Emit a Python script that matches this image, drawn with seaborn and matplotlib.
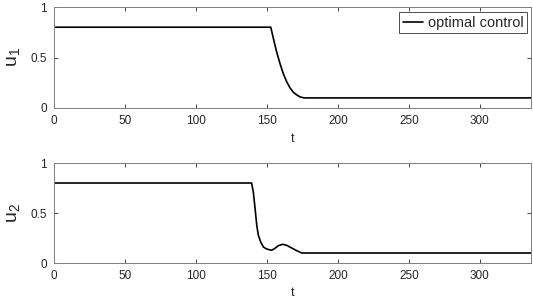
import numpy as np
import pandas as pd
import matplotlib
matplotlib.use("Agg")
import matplotlib.pyplot as plt
import seaborn as sns

# Data
t1 = [0, 152.7, 154.5, 156.8, 159.2, 161.5, 163.9, 166.2, 168.6, 171.0, 173.3, 176.1, 336]
u1 = [0.8, 0.8, 0.69, 0.557, 0.44, 0.34, 0.26, 0.20, 0.155, 0.13, 0.11, 0.1, 0.1]

t2 = [0, 139.2, 140.4, 141.6, 142.8, 143.9, 145.6, 147.5, 149.8, 153.3, 155.7, 158.0,
      161.1, 163.9, 167.4, 171.0, 174.5, 336]
u2 = [0.8, 0.8, 0.71, 0.55, 0.38, 0.28, 0.21, 0.16, 0.14, 0.127, 0.147, 0.173,
      0.187, 0.177, 0.15, 0.123, 0.1, 0.1]

xticks = [0, 50, 100, 150, 200, 250, 300]
yticks = [0, 0.5, 1]
yticklabels = ["0", "0.5", "1"]
legend_label = "optimal control"

sns.set_theme(style="ticks")
plt.rcParams['font.family'] = ['Liberation Sans', 'DejaVu Sans']
plt.rcParams['mathtext.fontset'] = 'custom'
plt.rcParams['mathtext.rm'] = 'Liberation Sans'

df1 = pd.DataFrame({"t": t1, "u": u1, "series": legend_label})
df2 = pd.DataFrame({"t": t2, "u": u2, "series": legend_label})

fig = plt.figure(figsize=(5.33, 3.0), dpi=100)
ax1 = fig.add_axes([54/533, 1-108/300, 477/533, 101/300])
ax2 = fig.add_axes([54/533, 1-263/300, 477/533, 100/300])

grey = (0.15, 0.15, 0.15)
for ax, df, lab in [(ax1, df1, "u_1"), (ax2, df2, "u_2")]:
    sns.lineplot(data=df, x="t", y="u", hue="series", palette=["black"],
                 estimator=None, sort=False, linewidth=1.2, ax=ax, legend=(ax is ax1))
    ax.set_xlim(0, 336)
    ax.set_ylim(0, 1)
    ax.set_xticks(xticks)
    ax.set_yticks(yticks)
    ax.set_yticklabels(yticklabels)
    ax.tick_params(direction="in", top=True, right=True, length=3, width=0.6,
                   labelsize=8.5, colors=grey, labelcolor=grey)
    ax.tick_params(axis="x", pad=5)
    ax.tick_params(axis="y", pad=5)
    for s in ax.spines.values():
        s.set_color((0.5, 0.5, 0.5))
        s.set_linewidth(0.7)
    ax.set_xlabel("t", fontsize=9, color=grey, labelpad=4)
    ax.set_ylabel(r"$\mathregular{%s}$" % lab, fontsize=14, color=grey, labelpad=6)

leg = ax1.legend(loc="upper right", fontsize=10.5, frameon=True, fancybox=False,
                 handlelength=1.4, handletextpad=0.3, borderpad=0.25,
                 borderaxespad=0.0, bbox_to_anchor=(0.992, 0.95))
leg.get_frame().set_edgecolor((0.3, 0.3, 0.3))
leg.get_frame().set_linewidth(0.7)
leg.get_frame().set_alpha(1)

fig.savefig("out.png", dpi=100)
